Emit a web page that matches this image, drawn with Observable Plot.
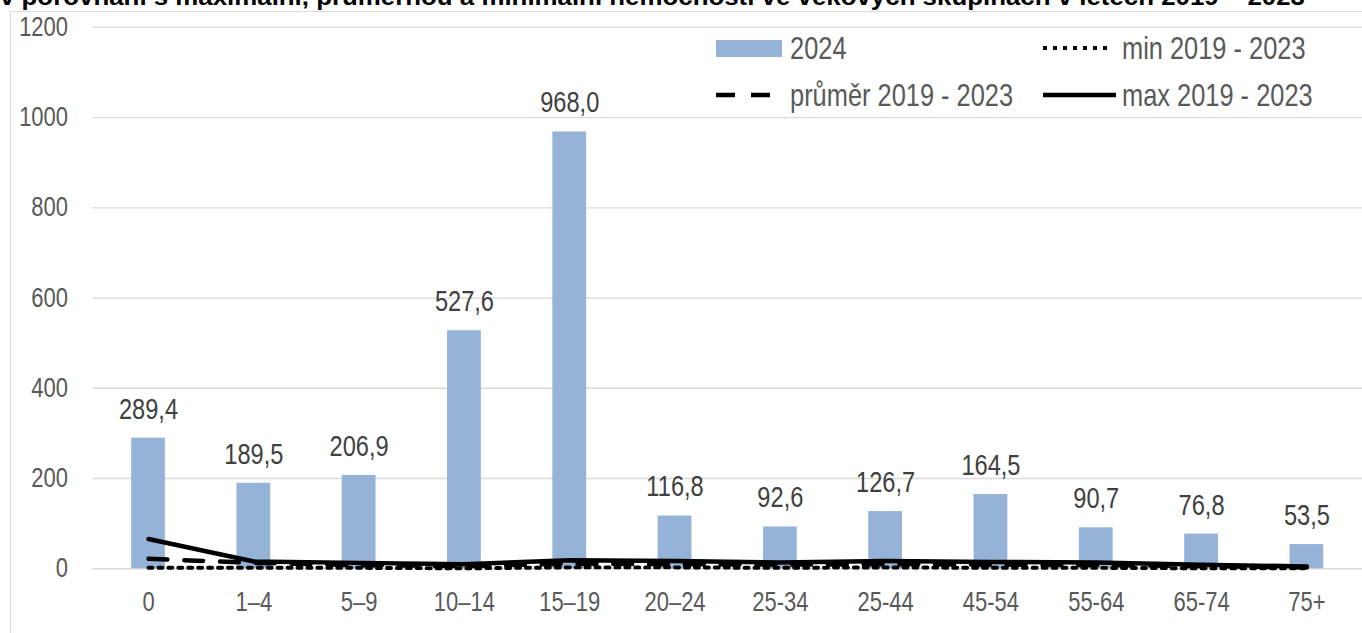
<!DOCTYPE html>
<html>
<head>
<meta charset="utf-8">
<script src="https://cdn.jsdelivr.net/npm/d3@7"></script>
<script src="https://cdn.jsdelivr.net/npm/@observablehq/plot@0.6"></script>
<style>
  html, body { margin: 0; padding: 0; background: #fff; overflow: hidden; }
  #wrap { position: relative; width: 1362px; height: 633px; overflow: hidden; }
  #wrap > * { position: absolute; }
</style>
</head>
<body>
<div id="wrap"></div>
<script>
// ---- data ----
const categories = ["0", "1–4", "5–9", "10–14", "15–19", "20–24", "25-34", "25-44", "45-54", "55-64", "65-74", "75+"];
const values2024 = [289.4, 189.5, 206.9, 527.6, 968.0, 116.8, 92.6, 126.7, 164.5, 90.7, 76.8, 53.5];
const maxValues  = [66, 16, 13, 10, 19, 17, 14, 17, 15, 14, 9, 5];
const meanValues = [22, 13, 8, 6, 11, 10, 9, 10, 9, 8, 6, 3];
const minValues  = [2, 2, 2, 1, 3, 3, 2, 3, 2, 2, 1, 1];
const yTicks = [0, 200, 400, 600, 800, 1000, 1200];
const titleText = "v porovnání s maximální, průměrnou a minimální nemocností ve věkových skupinách v letech 2019 – 2023";
const legendLabels = {bar: "2024", min: "min 2019 - 2023", mean: "průměr 2019 - 2023", max: "max 2019 - 2023"};

const rows = categories.map((c, i) => ({
  cat: c, v: values2024[i], max: maxValues[i], mean: meanValues[i], min: minValues[i]
}));
const fmt = d => d.toFixed(1).replace(".", ",");
const FONT = '"Liberation Sans", Arial, sans-serif';
const BAR = "#95B3D7";
const TXT = "#595959";
const NARROW = 0.82; // horizontal condensing to mimic the narrow original face

function condense(root, k) {
  d3.select(root).selectAll("text").each(function () {
    const xs = this.getAttribute("x");
    let tx = 0;
    if (xs !== null && !isNaN(+xs)) { tx = +xs; this.removeAttribute("x"); }
    const t = this.getAttribute("transform") || "";
    this.setAttribute("transform", `${t} translate(${tx},0) scale(${k},1)`);
  });
}

const wrap = document.getElementById("wrap");

// cut-off title at the very top (as in the original crop)
const tsvg = d3.create("svg").attr("width", 1362).attr("height", 11).style("left", "0px").style("top", "0px");
tsvg.append("text").attr("x", 0).attr("y", 5)
  .attr("font-family", FONT).attr("font-weight", "bold").attr("font-size", 23)
  .attr("textLength", 1305).attr("lengthAdjust", "spacingAndGlyphs").attr("fill", "#000")
  .text(titleText);
wrap.appendChild(tsvg.node());

// chart frame
const frame = document.createElement("div");
Object.assign(frame.style, {left: "10px", top: "11px", width: "1400px", height: "700px", border: "1px solid #D9D9D9", boxSizing: "border-box"});
wrap.appendChild(frame);

// chart
const chart = Plot.plot({
  width: 1371,
  height: 633,
  marginLeft: 93,
  marginRight: 0,
  marginTop: 27,
  marginBottom: 61,
  style: {fontFamily: FONT, background: "transparent", overflow: "visible"},
  x: {domain: categories, paddingInner: 0.68, paddingOuter: 0.34, label: null},
  y: {domain: [0, 1200], label: null},
  marks: [
    Plot.gridY(yTicks, {stroke: "#D9D9D9", strokeOpacity: 1, strokeWidth: 1.3}),
    Plot.axisY(yTicks, {tickSize: 0, tickPadding: 25, fontSize: 27, fill: TXT, label: null, tickFormat: d => String(d)}),
    Plot.axisX({tickSize: 0, tickPadding: 23, fontSize: 27, fill: TXT, label: null}),
    Plot.barY(rows, {x: "cat", y: "v", fill: BAR}),
    Plot.text(rows, {x: "cat", y: "v", text: d => fmt(d.v), dy: -29, fontSize: 29, fill: "#404040"}),
    Plot.lineY(rows, {x: "cat", y: "min", stroke: "#000", strokeWidth: 4, strokeDasharray: "4,6"}),
    Plot.lineY(rows, {x: "cat", y: "mean", stroke: "#000", strokeWidth: 4.5, strokeDasharray: "19,17"}),
    Plot.lineY(rows, {x: "cat", y: "max", stroke: "#000", strokeWidth: 4.5, strokeLinecap: "round"})
  ]
});
condense(chart, NARROW);
chart.style.left = "0px";
chart.style.top = "0px";
wrap.appendChild(chart);

// legend
const lsvg = d3.create("svg").attr("width", 700).attr("height", 90).style("left", "700px").style("top", "25px");
const L = lsvg.append("g").attr("transform", "translate(-700,-25)");
const ltext = (x, y, t) => L.append("text").attr("x", x).attr("y", y).attr("dominant-baseline", "central")
  .attr("font-family", FONT).attr("font-size", 31).attr("fill", TXT).text(t);
L.append("rect").attr("x", 716).attr("y", 40).attr("width", 66).attr("height", 17).attr("fill", BAR);
ltext(790, 48, legendLabels.bar);
L.append("line").attr("x1", 1043).attr("x2", 1111).attr("y1", 48).attr("y2", 48)
  .attr("stroke", "#000").attr("stroke-width", 4).attr("stroke-dasharray", "4,6");
ltext(1122, 48, legendLabels.min);
L.append("line").attr("x1", 716).attr("x2", 771).attr("y1", 95).attr("y2", 95)
  .attr("stroke", "#000").attr("stroke-width", 4.5).attr("stroke-dasharray", "19,16");
ltext(790, 95, legendLabels.mean);
L.append("line").attr("x1", 1043).attr("x2", 1116).attr("y1", 95).attr("y2", 95)
  .attr("stroke", "#000").attr("stroke-width", 4.5);
ltext(1122, 95, legendLabels.max);
condense(lsvg.node(), NARROW);
wrap.appendChild(lsvg.node());
</script>
</body>
</html>
